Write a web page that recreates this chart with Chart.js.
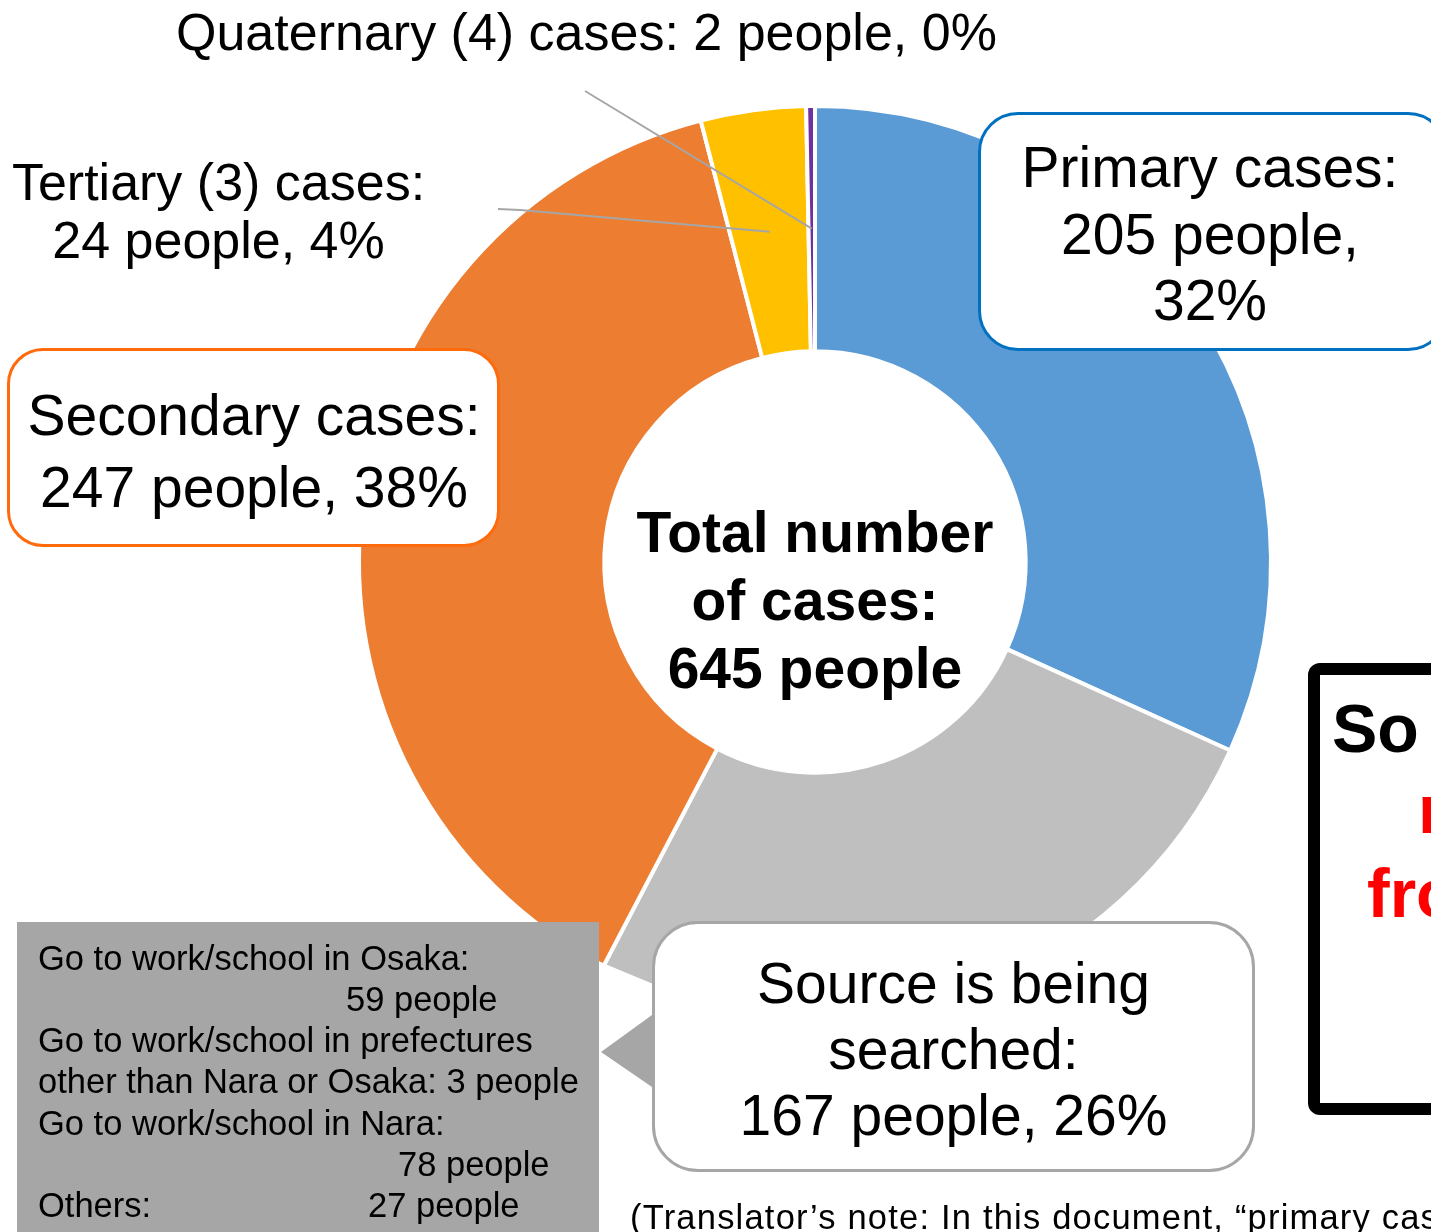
<!DOCTYPE html>
<html>
<head>
<meta charset="utf-8">
<script src="https://cdn.jsdelivr.net/npm/chart.js@4.4.1/dist/chart.umd.min.js"></script>
<style>
  html, body { margin: 0; padding: 0; background: #fff; }
  body { width: 1431px; height: 1232px; overflow: hidden; position: relative;
         font-family: 'Liberation Sans', Arial, sans-serif; color: #000; }
  #myChart { position: absolute; left: 0; top: 0; }
  .abs { position: absolute; white-space: nowrap; }
  .c { text-align: center; }
  .box { position: absolute; box-sizing: border-box; background: #fff; }
  svg { position: absolute; left: 0; top: 0; }
</style>
</head>
<body>
<canvas id="myChart" width="1431" height="1232" style="width:1431px;height:1232px"></canvas>

<svg width="1431" height="1232">
  <polygon points="598,961 652,983.5 652,1100 598,1100" fill="#ffffff"/>
  <polygon points="601,1052 652,1015 652,1087" fill="#a6a6a6"/>
</svg>

<!-- callouts -->
<div class="box" style="left:978px;top:112px;width:470px;height:239px;border:3px solid #0070c0;border-radius:40px"></div>
<div class="abs c" id="lblPrimary" style="left:978px;width:464px;top:134px;font-size:57px;line-height:66.5px"></div>

<div class="box" style="left:7px;top:348px;width:493px;height:199px;border:3px solid #ff6a0d;border-radius:36px"></div>
<div class="abs c" id="lblSecondary" style="left:7px;width:494px;top:379px;font-size:57px;line-height:72px"></div>

<div class="box" style="left:652px;top:921px;width:603px;height:251px;border:3px solid #a6a6a6;border-radius:46px"></div>
<div class="abs c" id="lblSearched" style="left:652px;width:603px;top:950px;font-size:57px;line-height:66px"></div>

<div class="abs c" id="lblTertiary" style="left:0px;width:437px;top:153px;font-size:52px;line-height:58px"></div>
<div class="abs" id="lblQuaternary" style="left:176px;top:2px;font-size:52px;line-height:60px"></div>

<div class="abs c" id="lblTotal" style="left:615px;width:400px;top:498px;font-size:57px;line-height:68px;font-weight:bold"></div>

<!-- breakdown of cases whose source is being searched -->
<div class="box" style="left:17px;top:922px;width:582px;height:320px;background:#a6a6a6"></div>
<div id="breakdown"></div>

<!-- right-hand note box, cut by the page edge -->
<div class="box" style="left:1308px;top:663px;width:220px;height:452px;border:12px solid #000;border-radius:12px"></div>
<div class="abs" style="left:1332px;top:694px;font-size:68px;line-height:68px;font-weight:bold">So far,</div>
<div class="abs" style="left:1418px;top:775px;font-size:68px;line-height:68px;font-weight:bold;color:#ff0000">many infected</div>
<div class="abs" style="left:1367px;top:859px;font-size:68px;line-height:68px;font-weight:bold;color:#ff0000">from Osaka</div>

<div class="abs" style="left:630px;top:1200px;font-size:34.5px;line-height:34.5px;letter-spacing:1.2px">(Translator’s note: In this document, “primary cases” refers to</div>

<script>
const categories = ['Primary cases', 'Source is being searched', 'Secondary cases', 'Tertiary (3) cases', 'Quaternary (4) cases'];
const people = [205, 167, 247, 24, 2];
const sliceColors = ['#5b9bd5', '#bfbfbf', '#ed7d31', '#ffc000', '#7030a0'];

// breakdown of the 167 people whose source is being searched
const commuteGroups = ['Go to work/school in Osaka:', 'Go to work/school in prefectures other than Nara or Osaka:', 'Go to work/school in Nara:', 'Others:'];
const commutePeople = [59, 3, 78, 27];

const total = people.reduce((a, b) => a + b, 0);
const pct = i => Math.round(people[i] / total * 100) + '%';

document.getElementById('lblPrimary').innerHTML = 'Primary cases:<br>' + people[0] + ' people,<br>' + pct(0);
document.getElementById('lblSearched').innerHTML = 'Source is being<br>searched:<br>' + people[1] + ' people, ' + pct(1);
document.getElementById('lblSecondary').innerHTML = 'Secondary cases:<br>' + people[2] + ' people, ' + pct(2);
document.getElementById('lblTertiary').innerHTML = 'Tertiary (3) cases:<br>' + people[3] + ' people, ' + pct(3);
document.getElementById('lblQuaternary').textContent = 'Quaternary (4) cases: ' + people[4] + ' people, ' + pct(4);
document.getElementById('lblTotal').innerHTML = 'Total number<br>of cases:<br>' + total + ' people';

// text lines of the grey box: [text, left, row]
const rows = [
  [commuteGroups[0], 38, 0],
  [commutePeople[0] + ' people', 346, 1],
  ['Go to work/school in prefectures', 38, 2],
  ['other than Nara or Osaka: ' + commutePeople[1] + ' people', 38, 3],
  [commuteGroups[2], 38, 4],
  [commutePeople[2] + ' people', 398, 5],
  [commuteGroups[3], 38, 6],
  [commutePeople[3] + ' people', 368, 6]
];
const bd = document.getElementById('breakdown');
rows.forEach(r => {
  const d = document.createElement('div');
  d.className = 'abs';
  d.style.cssText = 'left:' + r[1] + 'px;top:' + (937.5 + r[2] * 41.3) + 'px;font-size:34.5px;line-height:41.3px';
  d.textContent = r[0];
  bd.appendChild(d);
});

// leader lines from the small-slice labels to their slices
const leaders = [
  { index: 3, from: [[498, 209], [520, 210]] },
  { index: 4, from: [[585, 91]] }
];
const leaderLines = {
  id: 'leaderLines',
  afterDatasetsDraw(chart) {
    const arcs = chart.getDatasetMeta(0).data;
    const ctx = chart.ctx;
    ctx.save();
    ctx.strokeStyle = '#a6a6a6';
    ctx.lineWidth = 2;
    leaders.forEach(l => {
      const p = arcs[l.index].getCenterPoint();
      ctx.beginPath();
      ctx.moveTo(l.from[0][0], l.from[0][1]);
      for (let i = 1; i < l.from.length; i++) ctx.lineTo(l.from[i][0], l.from[i][1]);
      ctx.lineTo(p.x, p.y);
      ctx.stroke();
    });
    ctx.restore();
  }
};

const data = {
  labels: categories,
  datasets: [{
    data: people,
    backgroundColor: sliceColors,
    borderColor: '#ffffff',
    borderWidth: 4,
    hoverOffset: 0
  }]
};

const config = {
  type: 'doughnut',
  data: data,
  options: {
    responsive: false,
    animation: false,
    events: [],
    cutout: '46.2%',
    radius: 456,
    layout: { padding: { left: 361, top: 108, right: 162, bottom: 216 } },
    plugins: {
      legend: { display: false },
      tooltip: { enabled: false }
    }
  },
  plugins: [leaderLines]
};

const ctx = document.getElementById('myChart');
const myChart = new Chart(ctx, config);
</script>
</body>
</html>
